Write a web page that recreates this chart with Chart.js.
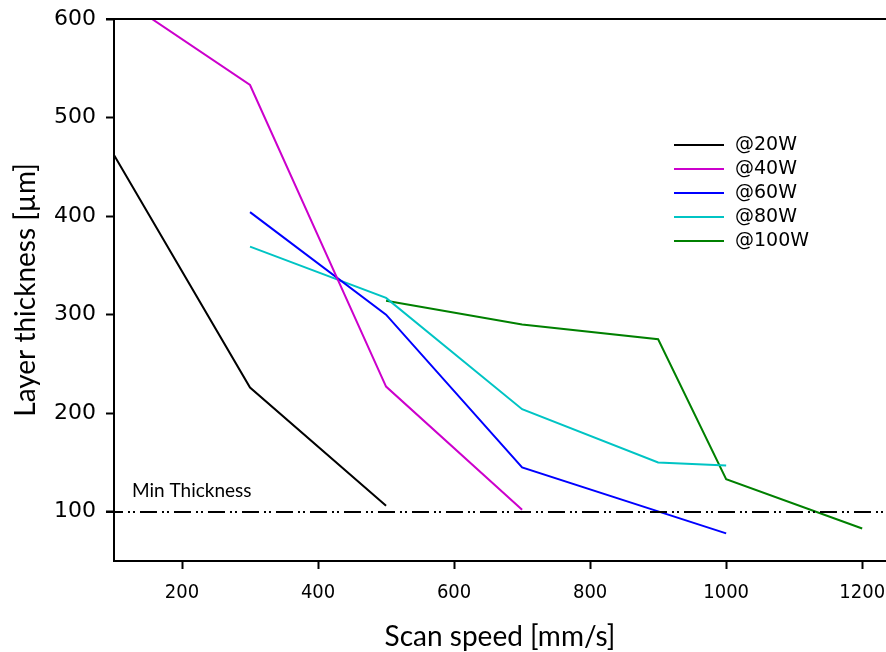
<!DOCTYPE html>
<html>
<head>
<meta charset="utf-8">
<title>Layer thickness vs scan speed</title>
<script src="https://cdn.jsdelivr.net/npm/chart.js@4.4.1/dist/chart.umd.min.js"></script>
<style>
  html, body { margin: 0; padding: 0; background: #fff; }
  #wrap { width: 886px; height: 652px; }
</style>
</head>
<body>
<div id="wrap"><canvas id="thicknessChart"></canvas></div>
<script>
"use strict";

// scan speed [mm/s] and layer thickness [um] for each laser power
const speed20 = [100, 300, 500];
const thick20 = [462, 226, 106];

const speed40 = [100, 300, 500, 700];
const thick40 = [626, 533, 227, 102];

const speed60 = [300, 500, 700, 1000];
const thick60 = [404, 300, 145, 78];

const speed80 = [300, 500, 700, 900, 1000];
const thick80 = [369, 317, 204, 150, 147];

const speed100 = [500, 700, 900, 1000, 1200];
const thick100 = [314, 290, 275, 133, 83];

const seriesNames = ['@20W', '@40W', '@60W', '@80W', '@100W'];
const seriesColors = ['#000000', '#cc00cc', '#0000ff', '#00c4c4', '#008000'];

const xTicks = [200, 400, 600, 800, 1000, 1200];
const yTicks = [100, 200, 300, 400, 500, 600];
const minThickness = 100;

function toPoints(xs, ys) {
    return xs.map((x, i) => ({ x: x, y: ys[i] }));
}

const allSeries = [
    toPoints(speed20, thick20),
    toPoints(speed40, thick40),
    toPoints(speed60, thick60),
    toPoints(speed80, thick80),
    toPoints(speed100, thick100)
];

// top frame line, the minimum thickness line and the inset legend
const extrasPlugin = {
    id: 'extras',
    afterDatasetsDraw(chart) {
        const ctx = chart.ctx;
        const area = chart.chartArea;
        const yScale = chart.scales.y;

        ctx.save();
        ctx.strokeStyle = '#000';
        ctx.lineWidth = 2;
        ctx.beginPath();
        ctx.moveTo(area.left - 8, area.top);
        ctx.lineTo(chart.width, area.top);
        ctx.stroke();

        // Min Thickness, dash-dot-dot
        const yMin = Math.round(yScale.getPixelForValue(minThickness));
        ctx.lineWidth = 2;
        ctx.setLineDash([17, 5, 2, 3, 2, 5]);
        ctx.beginPath();
        ctx.moveTo(area.left - 8, yMin);
        ctx.lineTo(chart.width, yMin);
        ctx.stroke();
        ctx.setLineDash([]);

        ctx.fillStyle = '#000';
        ctx.font = '19px Lato';
        ctx.textAlign = 'left';
        ctx.textBaseline = 'bottom';
        ctx.fillText('Min Thickness', 132, yMin - 12);

        // legend
        ctx.font = '19px "DejaVu Sans"';
        ctx.textBaseline = 'middle';
        chart.data.datasets.forEach((ds, i) => {
            const rowY = 145 + i * 24;
            ctx.strokeStyle = ds.borderColor;
            ctx.lineWidth = 2;
            ctx.beginPath();
            ctx.moveTo(674, rowY);
            ctx.lineTo(724, rowY);
            ctx.stroke();
            ctx.fillStyle = '#000';
            ctx.fillText(ds.label, 735, rowY);
        });
        ctx.restore();
    }
};

const ctx = document.getElementById('thicknessChart').getContext('2d');
new Chart(ctx, {
    type: 'scatter',
    data: {
        datasets: allSeries.map((pts, i) => ({
            label: seriesNames[i],
            data: pts,
            showLine: true,
            borderColor: seriesColors[i],
            backgroundColor: seriesColors[i],
            borderWidth: 2,
            pointRadius: 0,
            tension: 0
        }))
    },
    options: {
        responsive: true,
        maintainAspectRatio: false,
        animation: false,
        layout: { padding: { top: 19, right: 0, bottom: 1, left: 12 } },
        plugins: {
            legend: { display: false },
            tooltip: { enabled: false }
        },
        scales: {
            x: {
                type: 'linear',
                min: 100,
                max: 1235,
                afterBuildTicks: axis => { axis.ticks = xTicks.map(v => ({ value: v })); },
                // let the plot run right up to the canvas edge
                afterFit: axis => { axis.paddingLeft = 0; axis.paddingRight = 0; },
                grid: { drawOnChartArea: false, drawTicks: true, tickLength: 8, tickWidth: 2, tickColor: '#000' },
                border: { display: true, color: '#000', width: 2 },
                ticks: {
                    color: '#000',
                    padding: 12,
                    maxRotation: 0,
                    callback: v => String(v),
                    font: { family: '"DejaVu Sans Condensed", "DejaVu Sans"', size: 20 }
                },
                title: {
                    display: true,
                    text: 'Scan speed [mm/s]',
                    color: '#000',
                    padding: { top: 6, bottom: 0 },
                    font: { family: 'Lato', size: 28, lineHeight: 1.0 }
                }
            },
            y: {
                type: 'linear',
                min: 50,
                max: 600,
                afterBuildTicks: axis => { axis.ticks = yTicks.map(v => ({ value: v })); },
                afterFit: axis => { axis.paddingTop = 0; axis.paddingBottom = 0; },
                grid: { drawOnChartArea: false, drawTicks: true, tickLength: 8, tickWidth: 2, tickColor: '#000' },
                border: { display: true, color: '#000', width: 2 },
                ticks: {
                    color: '#000',
                    padding: 10,
                    callback: v => String(v),
                    font: { family: '"DejaVu Sans"', size: 22 }
                },
                title: {
                    display: true,
                    text: 'Layer thickness [µm]',
                    color: '#000',
                    padding: { top: 0, bottom: 4 },
                    font: { family: 'Lato', size: 28, lineHeight: 1.0 }
                }
            }
        }
    },
    plugins: [extrasPlugin]
});
</script>
</body>
</html>
